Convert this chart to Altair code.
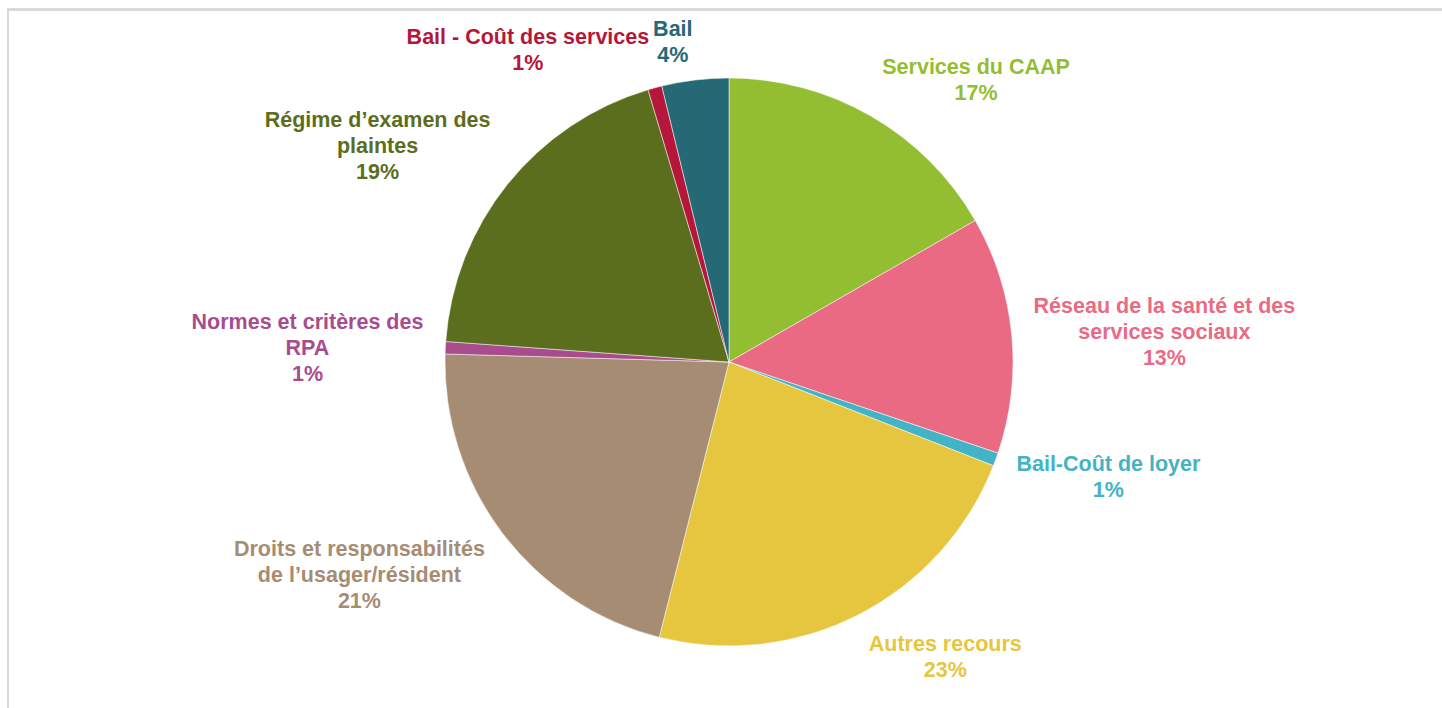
import math
import altair as alt
import pandas as pd

# ---- data ----
categories = [
    "Services du CAAP",
    "Réseau de la santé et des services sociaux",
    "Bail-Coût de loyer",
    "Autres recours",
    "Droits et responsabilités de l’usager/résident",
    "Normes et critères des RPA",
    "Régime d’examen des plaintes",
    "Bail - Coût des services",
    "Bail",
]
label_lines = [
    ["Services du CAAP"],
    ["Réseau de la santé et des", "services sociaux"],
    ["Bail-Coût de loyer"],
    ["Autres recours"],
    ["Droits et responsabilités", "de l’usager/résident"],
    ["Normes et critères des", "RPA"],
    ["Régime d’examen des", "plaintes"],
    ["Bail - Coût des services"],
    ["Bail"],
]
values = [16.7, 13.5, 0.75, 23.0, 21.5, 0.7, 19.25, 0.8, 3.8]
pct_labels = ["17%", "13%", "1%", "23%", "21%", "1%", "19%", "1%", "4%"]
colors = ["#94BE32", "#EA6A84", "#43B3C6", "#E6C63E", "#A68C73",
          "#A84C8E", "#5A6E1E", "#B5173B", "#256975"]

# ---- layout / style ----
W, H = 1426, 692
PAD_L, PAD_T = 16, 16
R = 284
FS = 21.5
LH = 26
GAP = 22

# approximate Arial Bold advance widths (em)
_w = {" ": .278, "-": .333, "/": .278, "’": .278, "%": .889, "i": .278, "l": .278,
      "t": .333, "r": .389, "f": .333, "j": .278, "m": .889, "w": .778,
      "A": .722, "B": .722, "C": .722, "D": .722, "N": .722, "R": .722,
      "P": .667, "S": .667, "d": .611, "o": .611, "u": .611, "û": .611,
      "n": .611, "p": .611, "b": .611, "g": .611, "q": .611, "h": .611, "y": .556}


def text_w(s):
    return sum(_w.get(c, .556) for c in s) * FS


cx, cy = W / 2, H / 2
total = sum(values)
rows = []
cum = 0.0
for i, (cat, v) in enumerate(zip(categories, values)):
    mid = (cum + v / 2) / total * 2 * math.pi
    cum += v
    lines = label_lines[i] + [pct_labels[i]]
    w = max(text_w(s) for s in lines)
    h = len(lines) * LH
    s, c = math.sin(mid), math.cos(mid)
    ax = cx + (R + GAP) * s
    ay = cy - (R + GAP) * c
    sx = 1.0 if s >= 0 else -1.0
    sy = max(-1.0, min(1.0, -c / max(abs(s), 1e-6)))
    block_cy = ay + sy * h / 2 + 4 + 7 * c
    rows.append({
        "cat": cat, "value": v, "idx": i,
        "label": "\n".join(lines),
        "lx": ax + sx * w / 2,
        # first line's y, so that the whole block is centred on block_cy
        "ly": block_cy - (len(lines) - 1) * LH / 2,
    })
df = pd.DataFrame(rows)

color_scale = alt.Scale(domain=categories, range=colors)

pie = alt.Chart(df).mark_arc(radius=R, stroke="white", strokeWidth=0.5).encode(
    theta=alt.Theta("value:Q", stack=True),
    order=alt.Order("idx:Q"),
    color=alt.Color("cat:N", scale=color_scale, legend=None),
)

labels = alt.Chart(df).mark_text(
    font="Liberation Sans", fontWeight="bold", fontSize=FS, lineHeight=LH,
    align="center", baseline="middle", lineBreak="\n",
).encode(
    x=alt.X("lx:Q", scale=None, axis=None),
    y=alt.Y("ly:Q", scale=None, axis=None),
    text="label:N",
    color=alt.Color("cat:N", scale=color_scale, legend=None),
)

border_top = alt.Chart(df).mark_rule(color="#D9D9D9", strokeWidth=2).encode(
    x=alt.value(-8), x2=alt.value(W + 20), y=alt.value(-6.5)
)
border_left = alt.Chart(df).mark_rule(color="#D9D9D9", strokeWidth=2).encode(
    x=alt.value(-8), y=alt.value(-7.5), y2=alt.value(H + 20)
)

chart = alt.layer(border_top, border_left, pie, labels).properties(
    width=W, height=H,
    padding={"left": PAD_L, "top": PAD_T, "right": 0, "bottom": 0},
    autosize=alt.AutoSizeParams(type="none"),
    background="white",
).configure_view(stroke=None)

chart.save("out.html", embed_options={"renderer": "svg", "actions": False})
